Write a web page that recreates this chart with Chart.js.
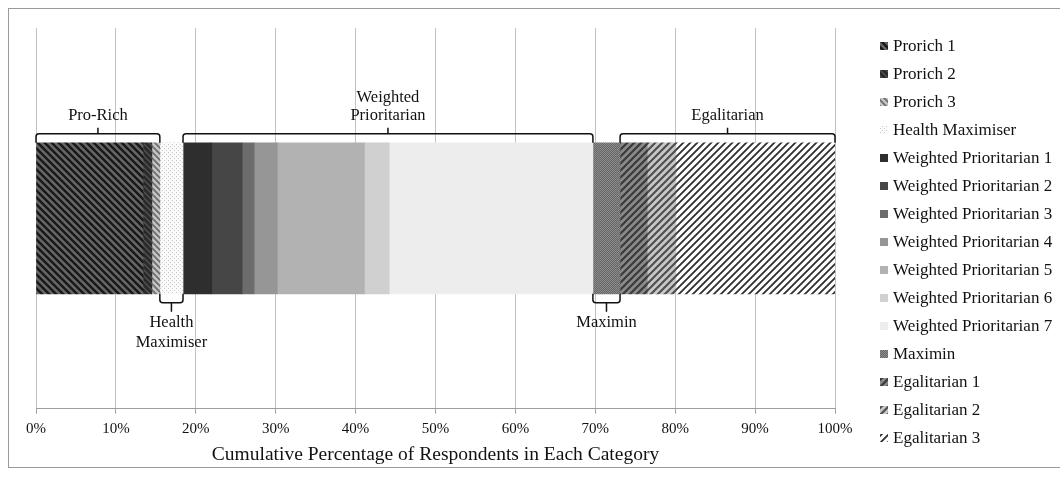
<!DOCTYPE html>
<html>
<head>
<meta charset="utf-8">
<script src="https://cdn.jsdelivr.net/npm/chart.js@4"></script>
<style>
  body { margin: 0; background: #fff; }
  #wrap { position: relative; width: 1060px; height: 477px; }
</style>
</head>
<body>
<div id="wrap"><canvas id="chart" width="1060" height="477"></canvas></div>
<script>
    const categories = ['Respondents'];
    const seriesLabels = [
      'Prorich 1', 'Prorich 2', 'Prorich 3', 'Health Maximiser',
      'Weighted Prioritarian 1', 'Weighted Prioritarian 2', 'Weighted Prioritarian 3',
      'Weighted Prioritarian 4', 'Weighted Prioritarian 5', 'Weighted Prioritarian 6',
      'Weighted Prioritarian 7', 'Maximin', 'Egalitarian 1', 'Egalitarian 2', 'Egalitarian 3'
    ];
    const seriesValues = [13.4, 1.1, 1.0, 2.9, 3.6, 3.8, 1.5, 2.9, 10.9, 3.1, 25.5, 3.4, 3.4, 3.6, 19.9];
    const tickLabels = ['0%', '10%', '20%', '30%', '40%', '50%', '60%', '70%', '80%', '90%', '100%'];

    // bracket groups: series index range [from, to)
    const topGroups = [
      { lines: ['Pro-Rich'], from: 0, to: 3 },
      { lines: ['Weighted', 'Prioritarian'], from: 4, to: 11 },
      { lines: ['Egalitarian'], from: 12, to: 15 }
    ];
    const bottomGroups = [
      { lines: ['Health', 'Maximiser'], from: 3, to: 4 },
      { lines: ['Maximin'], from: 11, to: 12 }
    ];

    function stripes(bg, fg, dir, size, lw) {
      const c = document.createElement('canvas');
      c.width = c.height = size;
      const g = c.getContext('2d');
      g.fillStyle = bg;
      g.fillRect(0, 0, size, size);
      g.strokeStyle = fg;
      g.lineWidth = lw;
      g.beginPath();
      if (dir === '/') {
        g.moveTo(0, size); g.lineTo(size, 0);
        g.moveTo(-size / 2, size / 2); g.lineTo(size / 2, -size / 2);
        g.moveTo(size / 2, size * 1.5); g.lineTo(size * 1.5, size / 2);
      } else {
        g.moveTo(0, 0); g.lineTo(size, size);
        g.moveTo(-size / 2, size / 2); g.lineTo(size / 2, size * 1.5);
        g.moveTo(size / 2, -size / 2); g.lineTo(size * 1.5, size / 2);
      }
      g.stroke();
      return g.createPattern(c, 'repeat');
    }

    function dots(bg, fg, size, r) {
      const c = document.createElement('canvas');
      c.width = c.height = size;
      const g = c.getContext('2d');
      g.fillStyle = bg;
      g.fillRect(0, 0, size, size);
      g.fillStyle = fg;
      g.fillRect(0, 0, r, r);
      g.fillRect(size / 2, size / 2, r, r);
      return g.createPattern(c, 'repeat');
    }

    const fills = [
      stripes('#666666', '#181818', '\\', 7, 2.4),
      stripes('#2b2b2b', '#5a5a5a', '\\', 6, 1.2),
      stripes('#c4c4c4', '#6a6a6a', '\\', 6, 1.6),
      dots('#fbfbfb', '#c6c6c6', 4, 1),
      '#2e2e2e', '#464646', '#6c6c6c', '#969696', '#b2b2b2', '#d0d0d0', '#ededed',
      dots('#666666', '#8c8c8c', 2, 1),
      stripes('#8a8a8a', '#3a3a3a', '/', 7, 2.2),
      stripes('#c8c8c8', '#505050', '/', 7, 2.2),
      stripes('#ffffff', '#2e2e2e', '/', 7, 1.8)
    ];

    const datasets = seriesLabels.map((label, i) => ({
      label,
      data: [seriesValues[i]],
      backgroundColor: fills[i],
      borderWidth: 0,
      barThickness: 151
    }));

    function cum(n) {
      let s = 0;
      for (let i = 0; i < n; i++) s += seriesValues[i];
      return s;
    }

    const serif = '"Liberation Serif", "DejaVu Serif", serif';

    const annotations = {
      id: 'annotations',
      afterDraw(chart) {
        const ctx = chart.ctx;
        const xs = chart.scales.x;
        const meta = chart.getDatasetMeta(0).data[0];
        const barTop = meta.y - meta.height / 2;
        const barBottom = meta.y + meta.height / 2;
        ctx.save();

        // outer frame
        ctx.strokeStyle = '#9a9a9a';
        ctx.lineWidth = 1;
        ctx.strokeRect(8.5, 8.5, 1100, 459);

        ctx.strokeStyle = '#111';
        ctx.lineWidth = 1.5;
        ctx.fillStyle = '#111';
        ctx.font = '16.5px ' + serif;
        ctx.textAlign = 'center';
        ctx.textBaseline = 'middle';

        function brace(x1, x2, yEnd, yLine, yStem) {
          const r = 3;
          const d = yLine < yEnd ? 1 : -1;
          const mid = (x1 + x2) / 2;
          ctx.beginPath();
          ctx.moveTo(x1, yEnd);
          ctx.lineTo(x1, yLine + d * r);
          ctx.quadraticCurveTo(x1, yLine, x1 + r, yLine);
          ctx.lineTo(x2 - r, yLine);
          ctx.quadraticCurveTo(x2, yLine, x2, yLine + d * r);
          ctx.lineTo(x2, yEnd);
          ctx.moveTo(mid, yLine);
          ctx.lineTo(mid, yStem);
          ctx.stroke();
        }

        topGroups.forEach(g => {
          const x1 = xs.getPixelForValue(cum(g.from));
          const x2 = xs.getPixelForValue(cum(g.to));
          brace(x1, x2, barTop, barTop - 9, barTop - 15);
          const mid = (x1 + x2) / 2;
          g.lines.slice().reverse().forEach((t, k) => {
            ctx.fillText(t, mid, barTop - 27 - k * 18);
          });
        });

        bottomGroups.forEach(g => {
          const x1 = xs.getPixelForValue(cum(g.from));
          const x2 = xs.getPixelForValue(cum(g.to));
          brace(x1, x2, barBottom, barBottom + 9, barBottom + 18);
          const mid = (x1 + x2) / 2;
          g.lines.forEach((t, k) => {
            ctx.fillText(t, mid, barBottom + 29 + k * 20);
          });
        });

        // legend
        ctx.font = '17px ' + serif;
        ctx.textAlign = 'left';
        chart.data.datasets.forEach((ds, i) => {
          const y = 46 + i * 28;
          ctx.fillStyle = ds.backgroundColor;
          ctx.fillRect(880, y - 4, 8, 8);
          ctx.fillStyle = '#111';
          ctx.fillText(ds.label, 893, y + 1);
        });
        ctx.restore();
      }
    };

    new Chart(document.getElementById('chart').getContext('2d'), {
      type: 'bar',
      data: { labels: categories, datasets },
      options: {
        indexAxis: 'y',
        responsive: false,
        animation: false,
        layout: { padding: { left: 36, right: 225, top: 28, bottom: 10 } },
        plugins: { legend: { display: false }, tooltip: { enabled: false } },
        scales: {
          x: {
            stacked: true,
            min: 0,
            max: 100,
            grid: { color: '#c2c2c2', tickLength: 5, tickColor: '#a0a0a0' },
            border: { color: '#a0a0a0' },
            ticks: {
              stepSize: 10,
              padding: 6,
              color: '#111',
              font: { family: serif, size: 15 },
              callback: (v, i) => tickLabels[i]
            },
            title: {
              display: true,
              text: 'Cumulative Percentage of Respondents in Each Category',
              color: '#111',
              font: { family: serif, size: 19.5 },
              padding: { top: 0, bottom: 0 }
            }
          },
          y: { stacked: true, display: false }
        }
      },
      plugins: [annotations]
    });
</script>
</body>
</html>
